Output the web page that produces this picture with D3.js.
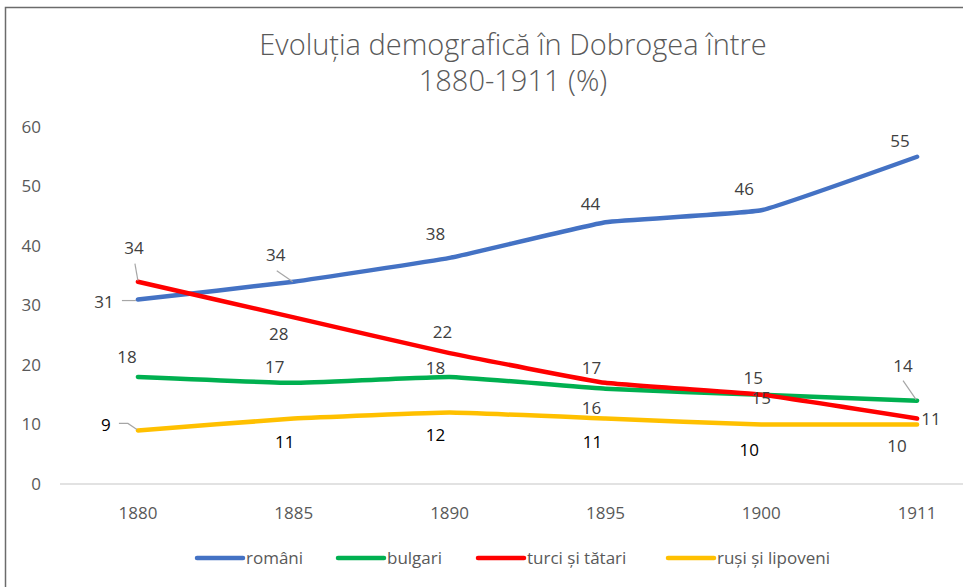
<!DOCTYPE html>
<html>
<head>
<meta charset="utf-8">
<script src="https://cdn.jsdelivr.net/npm/d3@7"></script>
<style>
  body { margin: 0; background: #fff; }
  svg { display: block; font-family: "Open Sans", "Noto Sans", sans-serif; }
</style>
</head>
<body>
<svg width="963" height="587"></svg>
<script>
// years on the x axis
let years = ["1880", "1885", "1890", "1895", "1900", "1911"];
let yTicks = [0, 10, 20, 30, 40, 50, 60];

// percentages per group
let romani = [31, 34, 38, 44, 46, 55];
let bulgari = [18, 17, 18, 16, 15, 14];
let turci = [34, 28, 22, 17, 15, 11];
let rusi = [9, 11, 12, 11, 10, 10];

let names = ["români", "bulgari", "turci și tătari", "ruși și lipoveni"];
let colors = ["#4472C4", "#00B050", "#FF0000", "#FFC000"];

// label nudges (dx, dy from the point), hand placed like in the original
let labelOff = [
  [[-34, 2], [-18, -27], [-14, -24], [-15, -18], [-17, -21], [-17, -16]],
  [[-11, -20], [-19, -16], [-14, -9], [-14, 19], [-8, -17], [-14, -35]],
  [[-4, -34], [-15, 17], [-7, -21], [-14, -15], [0, 3], [14, 0]],
  [[-32, -5], [-9, 23], [-14, 22], [-13, 23], [-12, 26], [-20, 22]]
];
let labelColor = [
  ["#404040", "#404040", "#404040", "#404040", "#404040", "#404040"],
  ["#404040", "#404040", "#404040", "#404040", "#404040", "#404040"],
  ["#404040", "#404040", "#404040", "#404040", "#404040", "#404040"],
  ["#000", "#000", "#000", "#000", "#000", "#404040"]
];
// leader lines: [series, point, relative path]
let leaders = [
  [0, 0, [[-16, 1], [-2, 1]]],
  [0, 1, [[-17, -11], [-1, 0]]],
  [2, 0, [[-3, -18], [0, -1]]],
  [1, 5, [[-14, -20], [-1, -1]]],
  [3, 0, [[-19, -7], [-10, -7], [-1, -1]]]
];

let series = [romani, bulgari, turci, rusi];

let svg = d3.select("svg");

// chart frame (cropped on the right/bottom like the picture)
svg.append("rect")
  .attr("x", 5.5).attr("y", 7.5)
  .attr("width", 1030).attr("height", 620)
  .attr("fill", "none")
  .attr("stroke", "#6b6b6b")
  .attr("stroke-width", 1.5);

let x = d3.scalePoint().domain(years).range([60, 995]).padding(0.5);
let y = d3.scaleLinear().domain([0, 60]).range([484, 127]);

// title
let title = svg.append("text")
  .attr("text-anchor", "middle")
  .attr("fill", "#595959")
  .style("font-size", "29px")
  .style("font-weight", 300);
title.append("tspan").attr("x", 513).attr("y", 55).text("Evoluția demografică în Dobrogea între");
title.append("tspan").attr("x", 513).attr("y", 91).text("1880-1911 (%)");

// y axis labels
svg.append("g").selectAll("text")
  .data(yTicks)
  .join("text")
  .attr("x", 41)
  .attr("y", d => y(d))
  .attr("dy", "0.35em")
  .attr("text-anchor", "end")
  .attr("fill", "#595959")
  .style("font-size", "17px")
  .text(d => d);

// baseline
svg.append("line")
  .attr("x1", 60).attr("x2", 995)
  .attr("y1", y(0)).attr("y2", y(0))
  .attr("stroke", "#D9D9D9")
  .attr("stroke-width", 1.5);

// x axis labels
svg.append("g").selectAll("text")
  .data(years)
  .join("text")
  .attr("x", d => x(d))
  .attr("y", 513)
  .attr("dy", "0.35em")
  .attr("text-anchor", "middle")
  .attr("fill", "#595959")
  .style("font-size", "17px")
  .text(d => d);

let line = d3.line()
  .x((d, i) => x(years[i]))
  .y(d => y(d))
  .curve(d3.curveCardinal.tension(0.7));

svg.append("g").selectAll("path")
  .data(series)
  .join("path")
  .attr("d", line)
  .attr("fill", "none")
  .attr("stroke", (d, i) => colors[i])
  .attr("stroke-width", 4.5)
  .attr("stroke-linecap", "round")
  .attr("stroke-linejoin", "round");

// leader lines
leaders.forEach(function(l) {
  let px = x(years[l[1]]), py = y(series[l[0]][l[1]]);
  svg.append("path")
    .attr("d", d3.line()(l[2].map(p => [px + p[0], py + p[1]])))
    .attr("fill", "none")
    .attr("stroke", "#A6A6A6")
    .attr("stroke-width", 1.2);
});

// data labels
series.forEach(function(s, si) {
  svg.append("g").selectAll("text")
    .data(s)
    .join("text")
    .attr("x", (d, i) => x(years[i]) + labelOff[si][i][0])
    .attr("y", (d, i) => y(d) + labelOff[si][i][1])
    .attr("dy", "0.35em")
    .attr("text-anchor", "middle")
    .attr("fill", (d, i) => labelColor[si][i])
    .style("font-size", "17px")
    .text(d => d);
});

// legend
let legX = [195, 336, 476, 666];
let leg = svg.append("g").selectAll("g")
  .data(names)
  .join("g")
  .attr("transform", (d, i) => "translate(" + legX[i] + ",558)");
leg.append("line")
  .attr("x1", 2).attr("x2", 48)
  .attr("stroke", (d, i) => colors[i])
  .attr("stroke-width", 4.5)
  .attr("stroke-linecap", "round");
leg.append("text")
  .attr("x", 51)
  .attr("dy", "0.35em")
  .attr("fill", "#595959")
  .style("font-size", "17px")
  .text(d => d);
</script>
</body>
</html>
